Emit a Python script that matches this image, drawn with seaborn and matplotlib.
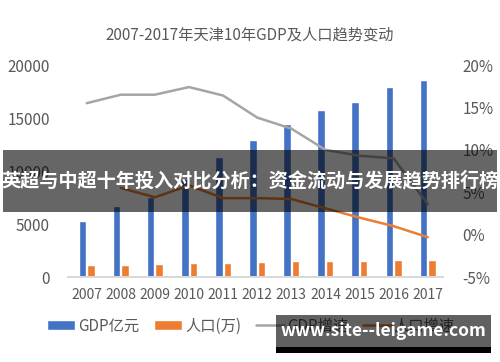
import numpy as np
import pandas as pd
import matplotlib.pyplot as plt
import seaborn as sns
from matplotlib.patches import Rectangle, Patch
from matplotlib.lines import Line2D
from matplotlib.ticker import FuncFormatter

sns.set_theme(style="white")
plt.rcParams['font.family'] = ['Noto Sans CJK SC', 'DejaVu Sans']

# 数据
years = ['2007', '2008', '2009', '2010', '2011', '2012', '2013', '2014', '2015', '2016', '2017']
gdp = [5252, 6719, 7521, 9224, 11307, 12894, 14442, 15727, 16538, 17885, 18549]
population = [1115, 1176, 1228, 1299, 1355, 1413, 1472, 1517, 1547, 1562, 1557]
gdp_growth = [15.5, 16.5, 16.5, 17.4, 16.4, 13.8, 12.5, 10.0, 9.3, 9.0, 3.6]
pop_growth = [np.nan, 5.5, 4.4, 5.8, 4.3, 4.3, 4.2, 3.1, 2.0, 1.0, -0.3]

c_gdp = '#4472C4'
c_pop = '#ED7D31'
c_gdp_g = '#A5A5A5'
c_pop_g = '#ED7D31'
c_text = '#595959'

df_bar = pd.DataFrame({
    'year': years * 2,
    'value': gdp + population,
    'series': ['GDP亿元'] * len(years) + ['人口(万)'] * len(years),
})
df_line = pd.DataFrame({
    'pos': np.arange(len(years)),
    'gdp_growth': gdp_growth,
    'pop_growth': pop_growth,
})

fig = plt.figure(figsize=(5, 3.62), dpi=100)
ax = fig.add_axes([0.136, 0.2348, 0.75, 0.5856])

sns.barplot(data=df_bar, x='year', y='value', hue='series', palette=[c_gdp, c_pop],
            width=0.5, gap=0.12, ax=ax, legend=False, saturation=1)
ax.set_ylim(0, 20000)
ax.set_yticks([0, 5000, 10000, 15000, 20000])
ax.set_xlim(-0.55, 10.45)
ax.set_xlabel('')
ax.set_ylabel('')

ax2 = ax.twinx()
sns.lineplot(data=df_line, x='pos', y='gdp_growth', color=c_gdp_g, linewidth=1.8, ax=ax2)
sns.lineplot(data=df_line, x='pos', y='pop_growth', color=c_pop_g, linewidth=1.8, ax=ax2)
ax2.set_ylim(-5, 20)
ax2.set_yticks([-5, 0, 5, 10, 15, 20])
ax2.yaxis.set_major_formatter(FuncFormatter(lambda v, p: f'{v:.0f}%'))
ax2.set_ylabel('')
ax2.set_xlim(-0.55, 10.45)

for a in (ax, ax2):
    for s in ['top', 'left', 'right']:
        a.spines[s].set_visible(False)
    a.spines['bottom'].set_color('#D9D9D9')
    a.grid(False)
ax.tick_params(axis='y', length=0, pad=13, labelsize=11, labelcolor=c_text)
ax.tick_params(axis='x', length=0, pad=8, labelsize=10, labelcolor=c_text)
ax2.tick_params(axis='y', length=0, pad=14, labelsize=11, labelcolor=c_text)

fig.text(0.5, 1 - 35 / 362, '2007-2017年天津10年GDP及人口趋势变动', ha='center', va='center',
         fontsize=11, color=c_text)

handles = [
    Patch(facecolor=c_gdp, label='GDP亿元'),
    Patch(facecolor=c_pop, label='人口(万)'),
    Line2D([0], [0], color=c_gdp_g, lw=1.8, label='GDP增速'),
    Line2D([0], [0], color=c_pop_g, lw=1.8, label='人口增速'),
]
fig.legend(handles=handles, loc='center', bbox_to_anchor=(0.502, 1 - 326 / 362), ncol=4,
           frameon=False, fontsize=11, labelcolor=c_text, handlelength=1.8, handleheight=0.6,
           handletextpad=0.2, columnspacing=1.0)

# 横幅与水印
fig.add_artist(Rectangle((3 / 500, 1 - 212 / 362), 494 / 500, 62 / 362, transform=fig.transFigure,
                         facecolor='black', alpha=0.6, edgecolor='none', zorder=10))
fig.text(0.5, 1 - 181 / 362, '英超与中超十年投入对比分析：资金流动与发展趋势排行榜', ha='center', va='center',
         fontsize=13.8, fontweight='bold', color='white', zorder=11)
fig.add_artist(Rectangle((276 / 500, 1 - 347 / 362), 215 / 500, 32 / 362, transform=fig.transFigure,
                         facecolor='black', alpha=0.62, edgecolor='none', zorder=10))
fig.add_artist(Rectangle((276 / 500, 1 - 353 / 362), 215 / 500, 6 / 362, transform=fig.transFigure,
                         facecolor='black', edgecolor='none', zorder=10))
fig.text(383 / 500, 1 - 331 / 362, 'www.site--leigame.com', ha='center', va='center',
         fontsize=12.5, fontweight='bold', color='white', zorder=11)

fig.savefig('out.png', dpi=100)
